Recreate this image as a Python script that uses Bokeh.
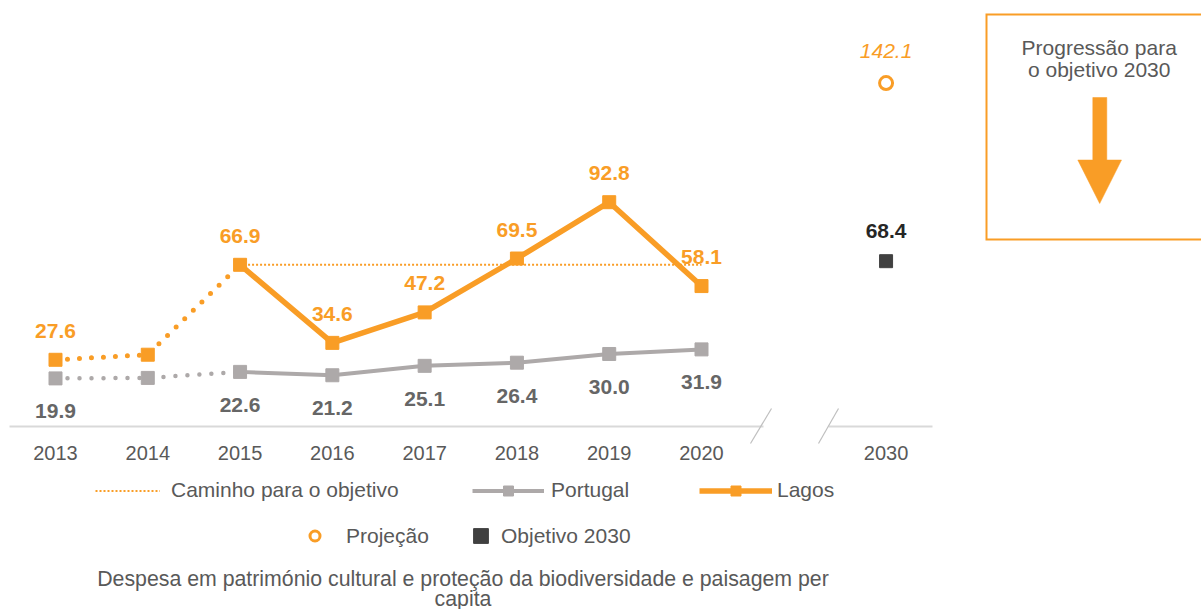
from bokeh.plotting import figure
from bokeh.models import (Range1d, LinearAxis, FixedTicker, Legend, LegendItem,
                          Label, ColumnDataSource)
from bokeh.core.properties import value
from bokeh.embed import file_html
from bokeh.resources import INLINE

# ---------------- data ----------------
YEARS = ["2013", "2014", "2015", "2016", "2017", "2018", "2019", "2020"]
X_POS = [0, 1, 2, 3, 4, 5, 6, 7]
LAGOS = [27.6, 29.7, 66.9, 34.6, 47.2, 69.5, 92.8, 58.1]
PORTUGAL = [19.9, 20.1, 22.6, 21.2, 25.1, 26.4, 30.0, 31.9]
SHOW_LABEL = [True, False, True, True, True, True, True, True]
CAMINHO_X = [2, 3, 4, 5, 6, 7]
CAMINHO = [66.9, 66.9, 66.9, 66.9, 66.9, 66.9]
YEAR_2030 = "2030"
X_2030 = 9
PROJ_2030 = [142.1]
OBJ_2030 = [68.4]
TICK_POS = X_POS + [X_2030]
TICK_LABELS = YEARS + [YEAR_2030]

ORANGE = "#F99D26"
GRAY = "#ADA9A9"
TXT = "#595959"
FONT = "Liberation Sans"

W, H = 1201, 609
PX_PER_X = 92.286
PX_PER_Y = 2.417
X0 = -55 / PX_PER_X
X1 = X0 + W / PX_PER_X
Y1 = 426 / PX_PER_Y
Y0 = Y1 - H / PX_PER_Y


def X(px):
    return X0 + px / PX_PER_X


def Y(py):
    return Y1 - py / PX_PER_Y


p = figure(width=W, height=H, x_range=Range1d(X0, X1), y_range=Range1d(Y0, Y1),
           output_backend="svg", toolbar_location=None, min_border=0,
           x_axis_type=None, y_axis_type=None)
p.outline_line_color = None
p.background_fill_color = "white"

# baseline with break
p.line([X(9), X(763)], [0, 0], line_color="#D9D9D9", line_width=2)
p.line([X(828), X(932)], [0, 0], line_color="#D9D9D9", line_width=2)
p.line([X(750), X(771)], [Y(443), Y(408)], line_color="#BFBFBF", line_width=1.2)
p.line([X(818), X(838)], [Y(443), Y(408)], line_color="#BFBFBF", line_width=1.2)

# caminho para o objetivo
r_cam = p.line(CAMINHO_X, CAMINHO, line_color=ORANGE, line_width=2, line_dash="2 2")

# Portugal
p.line(X_POS[:3], PORTUGAL[:3], line_color=GRAY, line_width=4.5, line_dash="0 12",
       line_cap="round")
r_pt = p.line(X_POS[2:], PORTUGAL[2:], line_color=GRAY, line_width=4)
r_ptm = p.scatter(X_POS, PORTUGAL, marker="square", size=13, fill_color=GRAY,
                  line_color=GRAY)

# Lagos
p.line(X_POS[:3], LAGOS[:3], line_color=ORANGE, line_width=5, line_dash="0 12",
       line_cap="round")
r_lg = p.line(X_POS[2:], LAGOS[2:], line_color=ORANGE, line_width=5.5)
r_lgm = p.scatter(X_POS, LAGOS, marker="square", size=13, fill_color=ORANGE,
                  line_color=ORANGE)

# 2030
r_proj = p.scatter([X_2030], PROJ_2030, marker="circle", size=13, fill_color="white",
                   line_color=ORANGE, line_width=3)
r_obj = p.scatter([X_2030], OBJ_2030, marker="square", size=13, fill_color="#404040",
                  line_color="#404040")

# data labels
lx = [x for x, s in zip(X_POS, SHOW_LABEL) if s]
lag_src = ColumnDataSource(dict(
    x=lx,
    y=[v + 29 / PX_PER_Y for v, s in zip(LAGOS, SHOW_LABEL) if s],
    t=[f"{v:.1f}" for v, s in zip(LAGOS, SHOW_LABEL) if s]))
pt_src = ColumnDataSource(dict(
    x=lx,
    y=[v - 33 / PX_PER_Y for v, s in zip(PORTUGAL, SHOW_LABEL) if s],
    t=[f"{v:.1f}" for v, s in zip(PORTUGAL, SHOW_LABEL) if s]))
common = dict(text_align="center", text_baseline="middle",
              text_font=value(FONT), text_font_size="21px")
p.text(x="x", y="y", text="t", source=lag_src, text_color=ORANGE,
       text_font_style="bold", **common)
p.text(x="x", y="y", text="t", source=pt_src, text_color="#666666",
       text_font_style="bold", **common)
p.text(x=[X_2030], y=[PROJ_2030[0] + 32 / PX_PER_Y], text=[f"{PROJ_2030[0]:.1f}"],
       text_color=ORANGE, text_font_style="italic", **common)
p.text(x=[X_2030], y=[OBJ_2030[0] + 30 / PX_PER_Y], text=[f"{OBJ_2030[0]:.1f}"],
       text_color="#262626", text_font_style="bold", **common)

# x axis (tick labels)
xaxis = LinearAxis(ticker=FixedTicker(ticks=TICK_POS),
                   major_label_overrides={t: l for t, l in zip(TICK_POS, TICK_LABELS)},
                   fixed_location=0, axis_line_color=None,
                   major_tick_line_color=None, minor_tick_line_color=None,
                   major_tick_out=0, major_tick_in=0, major_label_standoff=19,
                   major_label_text_font=FONT, major_label_text_font_size="20px",
                   major_label_text_color=TXT)
p.add_layout(xaxis, "below")


# legends
def add_legend(label, renderers, loc, gw, gh, standoff):
    leg = Legend(items=[LegendItem(label=label, renderers=renderers)],
                 location=loc, orientation="horizontal",
                 glyph_width=gw, glyph_height=gh, label_height=gh,
                 label_standoff=standoff, padding=0, margin=0, spacing=0,
                 border_line_color=None, background_fill_alpha=0,
                 label_text_font=FONT, label_text_font_size="21px",
                 label_text_color=TXT)
    p.add_layout(leg)


add_legend("Caminho para o objetivo", [r_cam], (95, 106.5), 65, 25, 11)
add_legend("Portugal", [r_pt, r_ptm], (472, 106.5), 72, 25, 7)
add_legend("Lagos", [r_lg, r_lgm], (699, 106.5), 73, 25, 5)
add_legend("Projeção", [r_proj], (302, 60.8), 25, 25, 19)
add_legend("Objetivo 2030", [r_obj], (462, 54.8), 37, 37, 2)

# bottom caption
for txt, py in [("Despesa em património cultural e proteção da biodiversidade e paisagem per", 578),
                ("capita", 598)]:
    p.add_layout(Label(x=X(462.5), y=Y(py), text=txt, text_align="center",
                       text_baseline="middle", text_font=FONT,
                       text_font_size="21.3px", text_color=TXT))

# right box (open on the right, runs past the page edge)
p.line([X(1215), X(986), X(986), X(1215)], [Y(14), Y(14), Y(239), Y(239)],
       line_color=ORANGE, line_width=2, line_join="miter")
for txt, py in [("Progressão para", 47), ("o objetivo 2030", 69)]:
    p.add_layout(Label(x=X(1098.7), y=Y(py), text=txt, text_align="center",
                       text_baseline="middle", text_font=FONT,
                       text_font_size="21px", text_color=TXT))
p.patch([X(1092.3), X(1106.3), X(1106.3), X(1121), X(1099.2), X(1077.3), X(1092.3)],
        [Y(97), Y(97), Y(159.5), Y(159.5), Y(203), Y(159.5), Y(159.5)],
        fill_color=ORANGE, line_color=ORANGE, line_width=0.5)

open("out.html", "w").write(file_html(p, INLINE))
